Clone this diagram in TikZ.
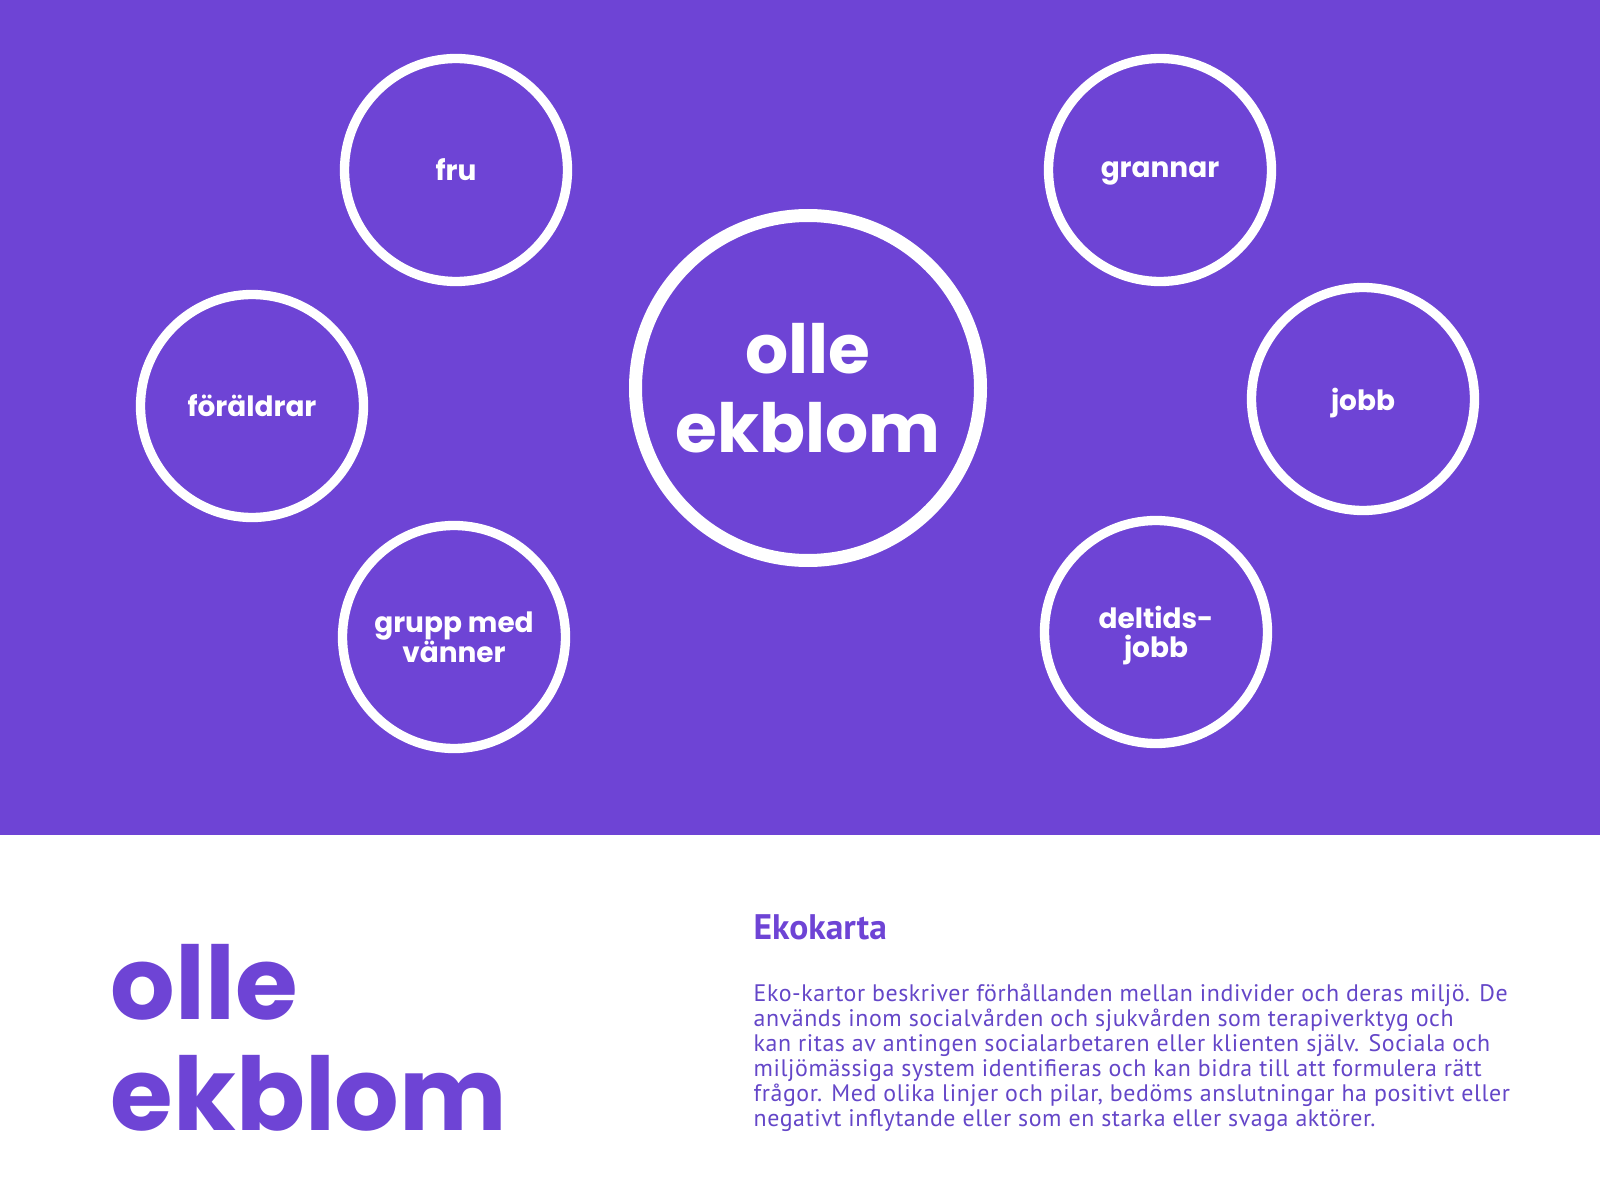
\documentclass[tikz,border=0pt]{standalone}
\usepackage{fontspec}
\setmainfont{PT Sans}
\newfontfamily\labelfont{Poppins}
\newfontfamily\bodyfont{PT Sans}[LetterSpace=2.4]
\definecolor{ekoPurple}{HTML}{6E44D5}
\definecolor{ekoText}{HTML}{6446C8}
\tikzset{
  eco node/.style={
    circle,
    draw=white,
    line width=0.93mm,
    minimum size=22.3mm,
    inner sep=0pt,
    align=center,
    text=white,
    text depth=0pt,
    font=\labelfont\bfseries\fontsize{7.95pt}{8.4pt}\selectfont,
  },
  centre node/.style={
    eco node,
    line width=1.3mm,
    minimum size=34.5mm,
    font=\labelfont\bfseries\fontsize{19.3pt}{22.4pt}\selectfont,
  },
  title text/.style={
    inner sep=0pt,
    align=left,
    text=ekoPurple,
    font=\labelfont\bfseries\fontsize{28.9pt}{31.4pt}\selectfont,
  },
  head text/.style={
    inner sep=0pt,
    text=ekoPurple,
    font=\bfseries\fontsize{10.1pt}{12pt}\selectfont,
  },
  body text/.style={
    inner sep=0pt,
    align=left,
    text=ekoText,
    font=\bodyfont\fontsize{6.8pt}{7.14pt}\selectfont,
  },
}

\begin{document}
\begin{tikzpicture}[x=0.1mm, y=-0.1mm]
      \useasboundingbox (0,0) rectangle (1600,1200);
      \fill[ekoPurple] (0,0) rectangle (1600,835);

      \node[centre node] (olle)     at (808,388)  {olle\\ekblom};
      \node[eco node]    (fru)      at (456,170)  {fru};
      \node[eco node]    (foraldrar) at (252,406) {föräldrar};
      \node[eco node]    (vanner)   at (454,637)  {grupp med\\vänner};
      \node[eco node]    (grannar)  at (1160,170) {grannar};
      \node[eco node]    (jobb)     at (1363,399) {jobb};
      \node[eco node]    (deltid)   at (1156,632) {deltids-\\jobb};

      \node[title text, anchor=north west] (title)    at (110,944) {olle\\ekblom};
      \node[head text,  anchor=base west]  (ekokarta) at (753,939) {Ekokarta};
      \node[body text,  anchor=north west] (about)    at (753,983) {Eko-kartor beskriver förhållanden mellan individer och deras miljö. De\\
        används inom socialvården och sjukvården som terapiverktyg och\\
        kan ritas av antingen socialarbetaren eller klienten själv. Sociala och\\
        miljömässiga system identifieras och kan bidra till att formulera rätt\\
        frågor. Med olika linjer och pilar, bedöms anslutningar ha positivt eller\\
        negativt inflytande eller som en starka eller svaga aktörer.};
\end{tikzpicture}
\end{document}
